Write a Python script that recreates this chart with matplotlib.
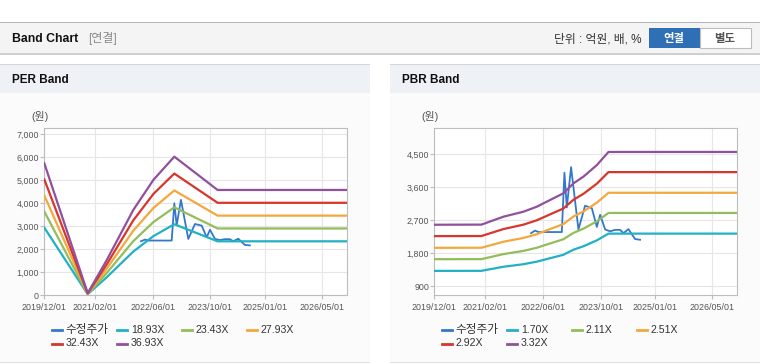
import matplotlib
matplotlib.use("Agg")
import matplotlib.pyplot as plt
import matplotlib.dates as mdates
import pandas as pd
from matplotlib.patches import Rectangle
from matplotlib.lines import Line2D
from matplotlib.ticker import FuncFormatter

plt.rcParams["font.family"] = ["Liberation Sans", "Noto Sans CJK KR"]

W, H = 760, 364

# ---- data -------------------------------------------------------------
x_ticks = ["2019-12-01", "2021-02-01", "2022-06-01", "2023-10-01", "2025-01-01", "2026-05-01"]
x_start, x_end = "2019-12-01", "2026-11-26"

price_label = "수정주가"
price_dates = ["2022-02-23", "2022-03-29", "2022-04-26", "2022-11-09", "2022-12-01",
               "2022-12-21", "2023-01-26", "2023-03-29", "2023-05-24", "2023-07-20",
               "2023-08-31", "2023-09-28", "2023-11-09", "2023-12-21", "2024-02-01",
               "2024-03-14", "2024-04-11", "2024-05-23", "2024-07-18", "2024-08-29"]
price_values = [2350, 2420, 2380, 2380, 4000, 3050, 4150, 2450, 3100, 3030,
                2520, 2850, 2450, 2400, 2440, 2440, 2350, 2460, 2190, 2170]

per_multiples = [18.93, 23.43, 27.93, 32.43, 36.93]
per_dates = ["2019-12-01", "2020-12-01", "2021-05-11", "2021-12-20", "2022-06-07",
             "2022-12-01", "2023-12-01", "2026-11-26"]
per_eps = [155.4, 2.5, 41.6, 100.4, 135.7, 163.2, 124.0, 124.0]
per_yticks = [0, 1000, 2000, 3000, 4000, 5000, 6000, 7000]

pbr_multiples = [1.70, 2.11, 2.51, 2.92, 3.32]
pbr_dates = ["2019-12-01", "2021-01-01", "2021-07-05", "2021-12-20", "2022-04-12",
             "2022-08-30", "2022-11-22", "2023-02-15", "2023-05-10", "2023-08-31",
             "2023-12-07", "2026-11-26"]
pbr_bps = [777, 778, 843, 884, 925, 994, 1035, 1117, 1172, 1267, 1375, 1375]
pbr_yticks = [900, 1800, 2700, 3600, 4500]

band_colors = ["#22b0c4", "#93bd5a", "#f3a83e", "#d8352c", "#91509d"]
price_color = "#3478cb"


def fx(x):
    return x / W


def fy(y):
    return 1 - y / H


fig = plt.figure(figsize=(W / 100, H / 100), dpi=100)


def box(x, y, w, h, color, z=-10, ec="none"):
    fig.add_artist(Rectangle((fx(x), fy(y + h)), w / W, h / H, transform=fig.transFigure,
                             facecolor=color, edgecolor=ec, lw=0.8, zorder=z))


# ---- page chrome ------------------------------------------------------
box(0, 22, W, 1, "#b5b5b5")
box(0, 23, W, 30, "#f4f4f4")
box(0, 53, W, 1.5, "#cfcfcf")
fig.text(fx(12), fy(38.5), "Band Chart", fontsize=8.8, fontweight="bold", color="#111", va="center")
fig.text(fx(88), fy(38.5), "[연결]", fontsize=8.6, color="#8a8a8a", va="center")
fig.text(fx(641.5), fy(39.5), "단위 : 억원, 배, %", fontsize=8.5, color="#333", va="center", ha="right")
box(648.5, 28.5, 51, 19.5, "#2f6fb6", z=-9)
box(699.5, 28.5, 51, 19.5, "#ffffff", z=-9, ec="#bdbdbd")
fig.text(fx(674), fy(38.5), "연결", fontsize=8.2, fontweight="bold", color="white", ha="center", va="center")
fig.text(fx(725), fy(38.5), "별도", fontsize=8.2, fontweight="bold", color="#555", ha="center", va="center")

for px0 in (0, 390):
    box(px0, 63.5, 370, 1, "#d6d6d6")
    box(px0, 64.5, 370, 28, "#eef1f6")
    box(px0, 92.5, 370, 269, "#fbfbfb")
    box(px0, 361.5, 370, 1, "#dddddd")

fig.text(fx(12), fy(80), "PER Band", fontsize=8.5, fontweight="bold", color="#111", va="center")
fig.text(fx(402), fy(80), "PBR Band", fontsize=8.5, fontweight="bold", color="#111", va="center")


# ---- charts -----------------------------------------------------------
def make_axes(left, right, ylim, yticks):
    ax = fig.add_axes([fx(left), fy(295.3), (right - left) / W, (295.3 - 128.3) / H])
    ax.set_facecolor("white")
    ax.set_xlim(pd.Timestamp(x_start), pd.Timestamp(x_end))
    ax.set_ylim(*ylim)
    ax.set_xticks(pd.to_datetime(x_ticks))
    ax.xaxis.set_major_formatter(mdates.DateFormatter("%Y/%m/%d"))
    ax.set_yticks(yticks)
    ax.yaxis.set_major_formatter(FuncFormatter(lambda v, p: f"{v:,.0f}"))
    ax.grid(color="#e6e6e6", lw=0.8)
    ax.set_axisbelow(True)
    for s in ax.spines.values():
        s.set_color("#bdbdbd")
        s.set_linewidth(0.8)
    ax.tick_params(axis="x", length=3, width=0.8, color="#bdbdbd", labelsize=6.4,
                   labelcolor="#555", pad=2.5)
    ax.tick_params(axis="y", length=3, width=0.8, color="#bdbdbd", labelsize=6.4,
                   labelcolor="#555", pad=0.8)
    return ax


def draw_chart(left, right, ylim, yticks, dates, base, multiples):
    ax = make_axes(left, right, ylim, yticks)
    ax.plot(pd.to_datetime(price_dates), price_values, color=price_color, lw=1.3, zorder=2)
    d = pd.to_datetime(dates)
    for m, c in zip(multiples, band_colors):
        ax.plot(d, [b * m for b in base], color=c, lw=1.6, zorder=3)
    fig.text(fx(left - 4), fy(117), "(원)", fontsize=7.8, color="#555", ha="center", va="center")

    labels = [price_label] + [f"{m:.2f}X" for m in multiples]
    colors = [price_color] + band_colors
    cols = [8, 73, 138, 203]
    rows = [330, 343.5]
    for i, (lab, col) in enumerate(zip(labels, colors)):
        r, c = divmod(i, 4)
        x0 = left + cols[c]
        y = rows[r]
        fig.add_artist(Line2D([fx(x0), fx(x0 + 10)], [fy(y), fy(y)], transform=fig.transFigure,
                              color=col, lw=2))
        fs = 8.4 if i == 0 else 7.6
        fig.text(fx(x0 + 13.5), fy(y), lab, fontsize=fs, color="#333", va="center", ha="left")
    return ax


draw_chart(44.3, 347, (0, 7260), per_yticks, per_dates, per_eps, per_multiples)
draw_chart(434.3, 737.3, (655, 5210), pbr_yticks, pbr_dates, pbr_bps, pbr_multiples)

fig.savefig("out.png", dpi=100)
plt.close()
